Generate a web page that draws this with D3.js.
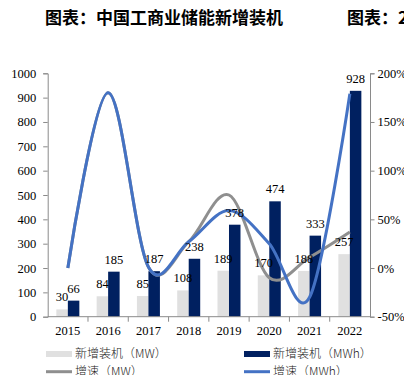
<!DOCTYPE html>
<html>
<head>
<meta charset="utf-8">
<script src="https://cdn.jsdelivr.net/npm/d3@7"></script>
<style>
  body { margin: 0; background: #fff; }
  svg { display: block; }
</style>
</head>
<body>
<div id="chart"></div>
<script>
// data
var years = ['2015', '2016', '2017', '2018', '2019', '2020', '2021', '2022'];
var mw = [30, 84, 85, 108, 189, 170, 188, 257];
var mwh = [66, 185, 187, 238, 378, 474, 333, 928];
var growthMW = [0, 180, 1, 27, 75, -10, 11, 37];
var growthMWh = [0, 180, 1, 27, 59, 25, -30, 179];
var leftTicks = [0, 100, 200, 300, 400, 500, 600, 700, 800, 900, 1000];
var rightTicks = [-50, 0, 50, 100, 150, 200];

var width = 404, height = 375;
var serif = '"Liberation Serif", "DejaVu Serif", serif';
var cjk = '"Noto Sans CJK SC", sans-serif';

var svg = d3.select('#chart').append('svg')
    .attr('width', width)
    .attr('height', height);

// titles
svg.append('text')
    .attr('x', 45).attr('y', 23.5)
    .style('font-family', cjk).style('font-weight', 'bold').style('font-size', '17px')
    .text('图表：中国工商业储能新增装机');
svg.append('text')
    .attr('x', 347).attr('y', 23.5)
    .style('font-family', cjk).style('font-weight', 'bold').style('font-size', '17px')
    .text('图表：2');

var x = d3.scaleBand().domain(years).range([47.7, 370]).padding(0);
var yL = d3.scaleLinear().domain([0, 1000]).range([316.7, 73.3]);
var yR = d3.scaleLinear().domain([-50, 200]).range([316.7, 73.3]);
var barW = 11.5;
var axisColor = '#8a8a8a';

// bars
svg.selectAll('.bar-mw').data(years).enter().append('rect')
    .attr('x', function(d) { return x(d) + x.bandwidth() / 2 - barW; })
    .attr('y', function(d, i) { return yL(mw[i]); })
    .attr('width', barW)
    .attr('height', function(d, i) { return yL(0) - yL(mw[i]); })
    .attr('fill', '#e0e0e0');

svg.selectAll('.bar-mwh').data(years).enter().append('rect')
    .attr('x', function(d) { return x(d) + x.bandwidth() / 2; })
    .attr('y', function(d, i) { return yL(mwh[i]); })
    .attr('width', barW)
    .attr('height', function(d, i) { return yL(0) - yL(mwh[i]); })
    .attr('fill', '#002060');

// axes
var gL = svg.append('g').attr('transform', 'translate(47.7,0)')
    .call(d3.axisLeft(yL).tickValues(leftTicks).tickSize(4.5).tickPadding(7)
        .tickFormat(d3.format('d')));
var gR = svg.append('g').attr('transform', 'translate(370,0)')
    .call(d3.axisRight(yR).tickValues(rightTicks).tickSize(4.5).tickPadding(3)
        .tickFormat(function(d) { return d + '%'; }));
[gL, gR].forEach(function(g) {
    g.select('.domain').attr('stroke', axisColor);
    g.selectAll('.tick line').attr('stroke', axisColor);
    g.selectAll('.tick text').style('font-family', serif).style('font-size', '12.5px').attr('fill', '#000');
});

// x axis
svg.append('line')
    .attr('x1', 47.7).attr('x2', 370).attr('y1', yL(0)).attr('y2', yL(0))
    .attr('stroke', axisColor);
svg.selectAll('.xtick').data(years.slice(1)).enter().append('line')
    .attr('x1', function(d) { return x(d); }).attr('x2', function(d) { return x(d); })
    .attr('y1', yL(0)).attr('y2', yL(0) + 5)
    .attr('stroke', axisColor);
svg.selectAll('.xlabel').data(years).enter().append('text')
    .attr('x', function(d) { return x(d) + x.bandwidth() / 2; })
    .attr('y', 334.5)
    .attr('text-anchor', 'middle')
    .style('font-family', serif).style('font-size', '12.5px')
    .text(function(d) { return d; });

// growth lines
var line = function(vals) {
    return d3.line()
        .x(function(d, i) { return x(years[i]) + x.bandwidth() / 2; })
        .y(function(d) { return yR(d); })
        .curve(d3.curveCardinal.tension(0))(vals);
};
svg.append('path').attr('d', line(growthMW))
    .attr('fill', 'none').attr('stroke', '#8f8f8f').attr('stroke-width', 3);
svg.append('path').attr('d', line(growthMWh))
    .attr('fill', 'none').attr('stroke', '#4472c4').attr('stroke-width', 3);

// data labels
svg.selectAll('.lab-mw').data(years).enter().append('text')
    .attr('x', function(d) { return x(d) + x.bandwidth() / 2 - barW / 2; })
    .attr('y', function(d, i) { return yL(mw[i]) - 8; })
    .attr('text-anchor', 'middle')
    .style('font-family', serif).style('font-size', '12.5px')
    .text(function(d, i) { return mw[i]; });
svg.selectAll('.lab-mwh').data(years).enter().append('text')
    .attr('x', function(d) { return x(d) + x.bandwidth() / 2 + barW / 2; })
    .attr('y', function(d, i) { return yL(mwh[i]) - 8; })
    .attr('text-anchor', 'middle')
    .style('font-family', serif).style('font-size', '12.5px')
    .text(function(d, i) { return mwh[i]; });

// legend
var legend = [
    {name: '新增装机（MW）', type: 'rect', color: '#e0e0e0', x: 46, y: 354},
    {name: '新增装机（MWh）', type: 'rect', color: '#002060', x: 244, y: 354},
    {name: '增速（MW）', type: 'line', color: '#8f8f8f', x: 46, y: 371.7},
    {name: '增速（MWh）', type: 'line', color: '#4472c4', x: 244, y: 371.7}
];
legend.forEach(function(l) {
    if (l.type == 'rect') {
        svg.append('rect').attr('x', l.x).attr('y', l.y - 3).attr('width', 26).attr('height', 6)
            .attr('fill', l.color);
    } else {
        svg.append('line').attr('x1', l.x).attr('x2', l.x + 26).attr('y1', l.y).attr('y2', l.y)
            .attr('stroke', l.color).attr('stroke-width', 3);
    }
    svg.append('text')
        .attr('x', l.x + 29).attr('y', l.y + 4.2)
        .style('font-family', cjk).style('font-size', '12px').style('font-weight', 300)
        .attr('fill', '#222')
        .text(l.name);
});
</script>
</body>
</html>
